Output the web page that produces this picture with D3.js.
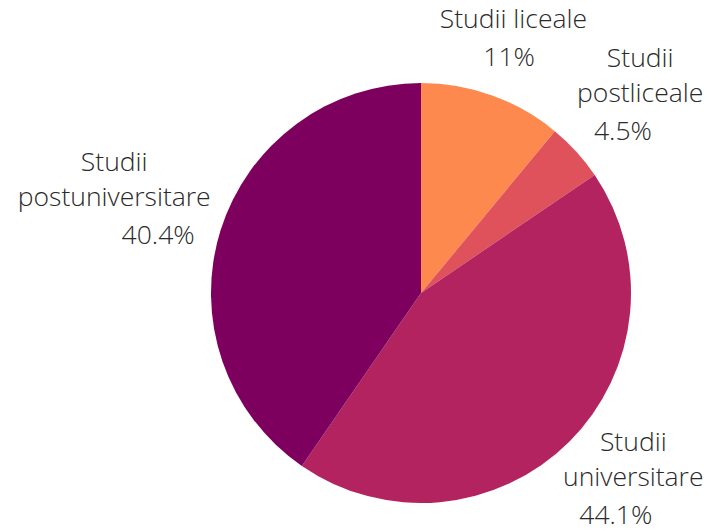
<!DOCTYPE html>
<html>
<head>
<meta charset="utf-8">
<script src="https://cdn.jsdelivr.net/npm/d3@7"></script>
<style>
  body { margin: 0; background: #fff; }
  text { font-family: "Open Sans", sans-serif; font-weight: 300; fill: #2a2a2a; }
</style>
</head>
<body>
<div id="chart"></div>
<script>
// data
const categories = ["Studii liceale", "Studii postliceale", "Studii universitare", "Studii postuniversitare"];
const values = [11, 4.5, 44.1, 40.4];
const colors = ["#fd894f", "#df525b", "#b3235f", "#7d005e"];

const width = 721, height = 532;
const cx = 421, cy = 293, radius = 210;
const fontSize = 26.5, lineH = 35, wrapWidth = 170;

const svg = d3.select("#chart")
    .append("svg")
    .attr("width", width)
    .attr("height", height);

const data = categories.map((c, i) => ({ name: c, value: values[i], color: colors[i] }));

const pie = d3.pie().value(d => d.value).sort(null);
const arc = d3.arc().innerRadius(0).outerRadius(radius);
const arcs = pie(data);

const g = svg.append("g").attr("transform", `translate(${cx},${cy})`);

g.selectAll("path")
    .data(arcs)
    .enter()
    .append("path")
    .attr("d", arc)
    .attr("fill", d => d.data.color);

// split a name into lines no wider than wrapWidth
function wrap(name) {
    const probe = svg.append("text").attr("font-size", fontSize);
    const words = name.split(" ");
    const lines = [];
    let line = [];
    words.forEach(w => {
        line.push(w);
        probe.text(line.join(" "));
        if (probe.node().getComputedTextLength() > wrapWidth && line.length > 1) {
            line.pop();
            lines.push(line.join(" "));
            line = [w];
        }
    });
    lines.push(line.join(" "));
    probe.remove();
    return lines;
}

const labels = g.selectAll(".label")
    .data(arcs)
    .enter()
    .append("g")
    .attr("class", "label");

labels.each(function(d) {
    const lab = d3.select(this);
    const lines = wrap(d.data.name);
    const a = (d.startAngle + d.endAngle) / 2;
    const sx = Math.sin(a), sy = -Math.cos(a);
    const t = lab.append("text")
        .attr("font-size", fontSize)
        .attr("text-anchor", "middle");
    lines.forEach((l, i) => {
        t.append("tspan").attr("x", 0).attr("y", i * lineH).text(l);
    });
    const nameW = t.node().getBBox().width;
    // percentage sits under the name, nudged toward the pie
    t.append("tspan")
        .attr("x", -Math.sign(sx) * sx * sx * 0.5 * nameW / 2)
        .attr("y", lines.length * lineH + 3)
        .text(d3.format("~")(d.data.value) + "%");
    // push the block out along the slice's mid angle until it clears the pie
    const bb = t.node().getBBox();
    const dist = radius + 3 + Math.abs(sx) * bb.width / 2 + Math.abs(sy) * bb.height / 2;
    const px = sx * dist - (bb.x + bb.width / 2);
    let py = sy * dist - (bb.y + bb.height / 2);
    // keep the block inside the svg vertically
    const top = cy + py + bb.y, bottom = top + bb.height;
    if (bottom > height) py -= bottom - height;
    if (top < 0) py -= top;
    lab.attr("transform", `translate(${px},${py})`);
});
</script>
</body>
</html>
